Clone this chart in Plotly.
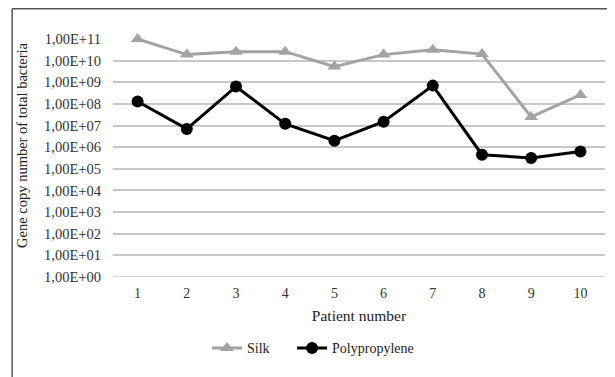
import plotly.graph_objects as go

patients = [1, 2, 3, 4, 5, 6, 7, 8, 9, 10]
silk = [1.0e11, 1.9e10, 2.6e10, 2.6e10, 5.3e9, 1.9e10, 3.2e10, 2.0e10, 2.5e7, 2.6e8]
polypropylene = [1.3e8, 7.0e6, 6.3e8, 1.2e7, 2.0e6, 1.5e7, 7.0e8, 4.5e5, 3.2e5, 6.3e5]
tick_vals = [10 ** k for k in range(0, 12)]
tick_text = ["1,00E+%02d" % k for k in range(0, 12)]

font = "Liberation Serif, Times New Roman, serif"

fig = go.Figure()
fig.add_trace(go.Scatter(
    x=patients, y=silk, name="Silk", mode="lines+markers",
    line=dict(color="#a3a3a3", width=3),
    marker=dict(symbol="triangle-up", size=12, color="#a3a3a3"),
    cliponaxis=False, legend="legend",
))
fig.add_trace(go.Scatter(
    x=patients, y=polypropylene, name="Polypropylene", mode="lines+markers",
    line=dict(color="#000000", width=3),
    marker=dict(symbol="circle", size=12, color="#000000"),
    cliponaxis=False, legend="legend2",
))

leg_common = dict(orientation="h", y=-0.30, xanchor="left", yanchor="middle",
                  font=dict(size=14, family=font), itemwidth=30, bgcolor="rgba(0,0,0,0)")

fig.update_layout(
    width=607, height=369,
    margin=dict(l=105, r=10, t=31, b=100),
    paper_bgcolor="white", plot_bgcolor="white",
    font=dict(family=font, size=14, color="#222"),
    showlegend=True,
    legend=dict(x=0.191, **leg_common),
    legend2=dict(x=0.364, **leg_common),
    xaxis=dict(
        range=[0.5, 10.5], tickvals=patients, ticktext=[str(p) for p in patients],
        showgrid=False, zeroline=False, showline=False, ticks="",
        tickfont=dict(size=14, family=font, color="#333"), ticklabelstandoff=6,
        title=dict(text="Patient number", font=dict(size=15.5, family=font), standoff=10),
    ),
    yaxis=dict(
        type="log", range=[0, 11], tickvals=tick_vals, ticktext=tick_text,
        showgrid=True, gridcolor="#c8c8c8", gridwidth=1.5, zeroline=False,
        showline=False, ticks="", tickfont=dict(size=14.5, family=font, color="#333"),
        ticklabelstandoff=11,
    ),
    annotations=[
        dict(text="Gene copy number of total bacteria", xref="paper", yref="paper",
             x=-0.185, y=0.555, xanchor="center", yanchor="middle", textangle=-90,
             showarrow=False, font=dict(size=14.5, family=font, color="#222")),
    ],
    shapes=[
        dict(type="line", xref="paper", yref="paper", x0=-0.205, x1=1.03, y0=1.127, y1=1.127,
             line=dict(color="#555", width=1.5)),
        dict(type="line", xref="paper", yref="paper", x0=-0.205, x1=-0.205, y0=1.127, y1=-0.45,
             line=dict(color="#555", width=1.5)),
    ],
)
fig.add_hline(y=1, line=dict(color="#c8c8c8", width=1.5), layer="below")

fig.write_html("out.html")
